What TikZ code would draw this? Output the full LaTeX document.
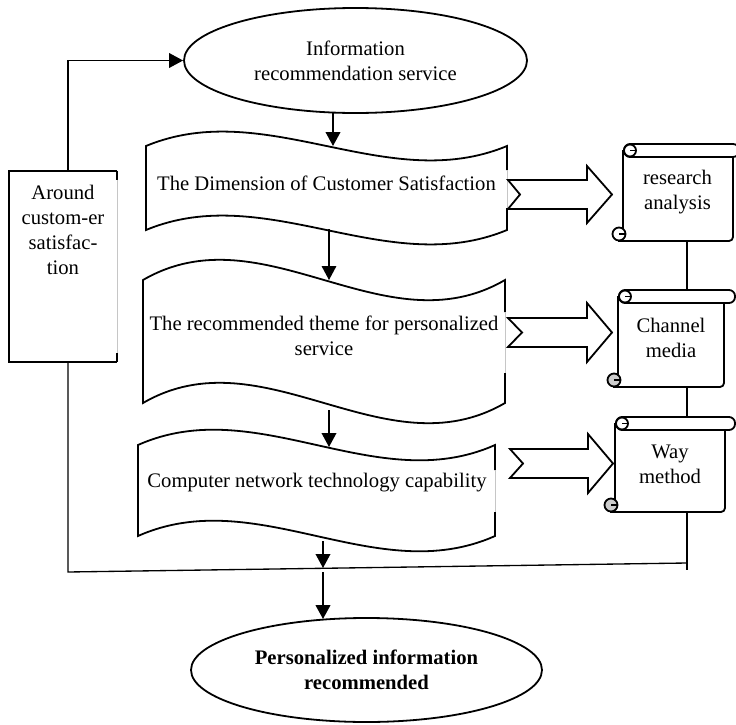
\documentclass[tikz,border=0pt]{standalone}
\usepackage{fontspec}
\setmainfont{Liberation Serif}
\usetikzlibrary{arrows.meta,shapes.geometric}
\newcommand\wavebody[7]{%
  \fill[white] (#1,#3) .. controls ({#1+(#2-#1)/3},{#3-#5}) and ({#1+2*(#2-#1)/3},{#3+#5}) .. (#2,#3) -- (#2,#4) .. controls ({#1+2*(#2-#1)/3},{#4+#5}) and ({#1+(#2-#1)/3},{#4-#5}) .. (#1,#4) -- cycle;
  \draw[shp] (#2,#7) -- (#2,#4) .. controls ({#1+2*(#2-#1)/3},{#4+#5}) and ({#1+(#2-#1)/3},{#4-#5}) .. (#1,#4) -- (#1,#3) .. controls ({#1+(#2-#1)/3},{#3-#5}) and ({#1+2*(#2-#1)/3},{#3+#5}) .. (#2,#3) -- (#2,#6);
  \draw[gray!45, line width=0.4pt] (#2,#6) -- (#2,#7);
}
\newcommand\blockarr[7]{% tail, notch, midy, shaft half, head base, head half, tip
  \draw[shp, fill=white, line join=miter] (#1,{#3-#4}) -- (#5,{#3-#4}) -- (#5,{#3-#6}) -- (#7,#3) -- (#5,{#3+#6}) -- (#5,{#3+#4}) -- (#1,{#3+#4}) -- (#2,#3) -- cycle;
}
\newcommand\scrollbody[6]{% x0, y0, band right, body right, bottom, curl fill
  \draw[shp, rounded corners=3pt] ({#1-5},#5) -- (#4,#5) -- (#4,{#2+12});
  \draw[shp] (#1,{#2+6}) -- (#1,{#5-8});
  \draw[shp, fill=white, rounded corners=4.5pt] ({#1+1},#2) rectangle (#3,{#2+13});
  \draw[shp, fill=white] ({#1+7},{#2+6.5}) circle (6);
  \draw[shp] ({#1+7},{#2+6.5}) -- ({#1+13},{#2+6.5});
  \draw[shp, fill=#6] ({#1-4},{#5-7}) circle (6.5);
  \draw[shp] ({#1-4},{#5-7}) -- ({#1+2.5},{#5-7});
}
\begin{document}
\begin{tikzpicture}[x=0.75pt,y=-0.75pt,
  every node/.style={font=\fontsize{15.5pt}{18.75pt}\selectfont, align=center},
  shp/.style={line width=1.35pt},
  thinl/.style={line width=1pt},
  arr/.style={-{Triangle[length=10.5pt,width=11pt]}},
  ell/.style={ellipse, draw, line width=1.35pt, inner sep=0pt},
  txt/.style={inner sep=1pt}]
\useasboundingbox (0,0) rectangle (736,725);
\fill[white] (0,0) rectangle (736,725);

% ellipses
\node[ell, minimum width=257.25pt, minimum height=78.75pt] (top) at (355.5,60.5) {Information\\recommendation service};
\node[ell, minimum width=263.25pt, minimum height=78pt, font=\fontsize{15.5pt}{18.75pt}\selectfont\bfseries] (bot) at (366.5,670) {Personalized information\\recommended};

% wave shapes
\wavebody{146}{507}{146}{230}{50}{170}{208}
\node[txt] (w1) at (326.5,183) {The Dimension of Customer Satisfaction};
\wavebody{143}{505}{280}{403}{70}{312}{373}
\node[txt] (w2) at (324,336) {The recommended theme for personalized\\service};
\wavebody{138}{495}{445}{536}{53}{470}{512}
\node[txt] (w3) at (317,483) {Computer network technology capability};

% block arrows
\blockarr{508}{520}{194.5}{14.5}{587}{28.5}{612}
\blockarr{508}{522}{332.5}{14.5}{587}{29.5}{612}
\blockarr{510}{523}{463.5}{14.5}{588}{29.5}{613}

% scrolls
\scrollbody{623}{144}{739}{733}{241}{white}
\node[txt] (s1) at (677.5,192) {research\\analysis};
\scrollbody{618}{290}{735}{724}{387}{gray!40}
\node[txt] (s2) at (671,337.5) {Channel\\media};
\scrollbody{615}{417}{735}{725}{512}{gray!40}
\node[txt] (s3) at (670,464) {Way\\method};

% left box
\node[minimum width=81pt, minimum height=143.25pt, inner sep=0pt] (lbox) at (63,266.5) {};
\draw[shp] (lbox.north east) -- (lbox.north west) -- (lbox.south west) -- (lbox.south east);
\draw[shp] (lbox.north east) -- ++(0,9);
\draw[shp] (lbox.south east) -- ++(0,-9);
\draw[gray!45, line width=0.5pt] ([yshift=-6.75pt]lbox.north east) -- ([yshift=6.75pt]lbox.south east);
\node[txt] (lboxtext) at (63,230) {Around\\custom-er\\satisfac-\\tion};

% coordinates
\coordinate (lx) at (68,0);
\coordinate (lowL) at (68,572);
\coordinate (lowR) at (687,563);
\coordinate (s1b) at (687,241);
\coordinate (s2t) at (687,290);
\coordinate (s2b) at (687,387);
\coordinate (s3t) at (687,417);
\coordinate (s3b) at (687,512);
\coordinate (s3e) at (687,570);
\coordinate (a1s) at (333,113);
\coordinate (a1e) at (333,146);
\coordinate (a2s) at (329,229);
\coordinate (a2e) at (329,280);
\coordinate (a3s) at (329,410);
\coordinate (a3e) at (329,447);
\coordinate (a4s) at (323,541);
\coordinate (a4e) at (323,568);
\coordinate (a5s) at (323,572);
\coordinate (a5e) at (323,619);

% connectors
\draw[thinl, arr] (lbox.north -| lx) |- (top.west);
\draw[thinl] (lbox.south -| lx) -- (lowL) -- (lowR);
\draw[thinl] (s1b) -- (s2t);
\draw[thinl] (s2b) -- (s3t);
\draw[thinl] (s3b) -- (s3e);
\draw[line width=1.4pt, arr] (a1s) -- (a1e);
\draw[line width=0.85pt, arr] (a2s) -- (a2e);
\draw[line width=1.2pt, arr] (a3s) -- (a3e);
\draw[line width=1.1pt, arr] (a4s) -- (a4e);
\draw[line width=1.6pt, arr] (a5s) -- (a5e);
\end{tikzpicture}
\end{document}
